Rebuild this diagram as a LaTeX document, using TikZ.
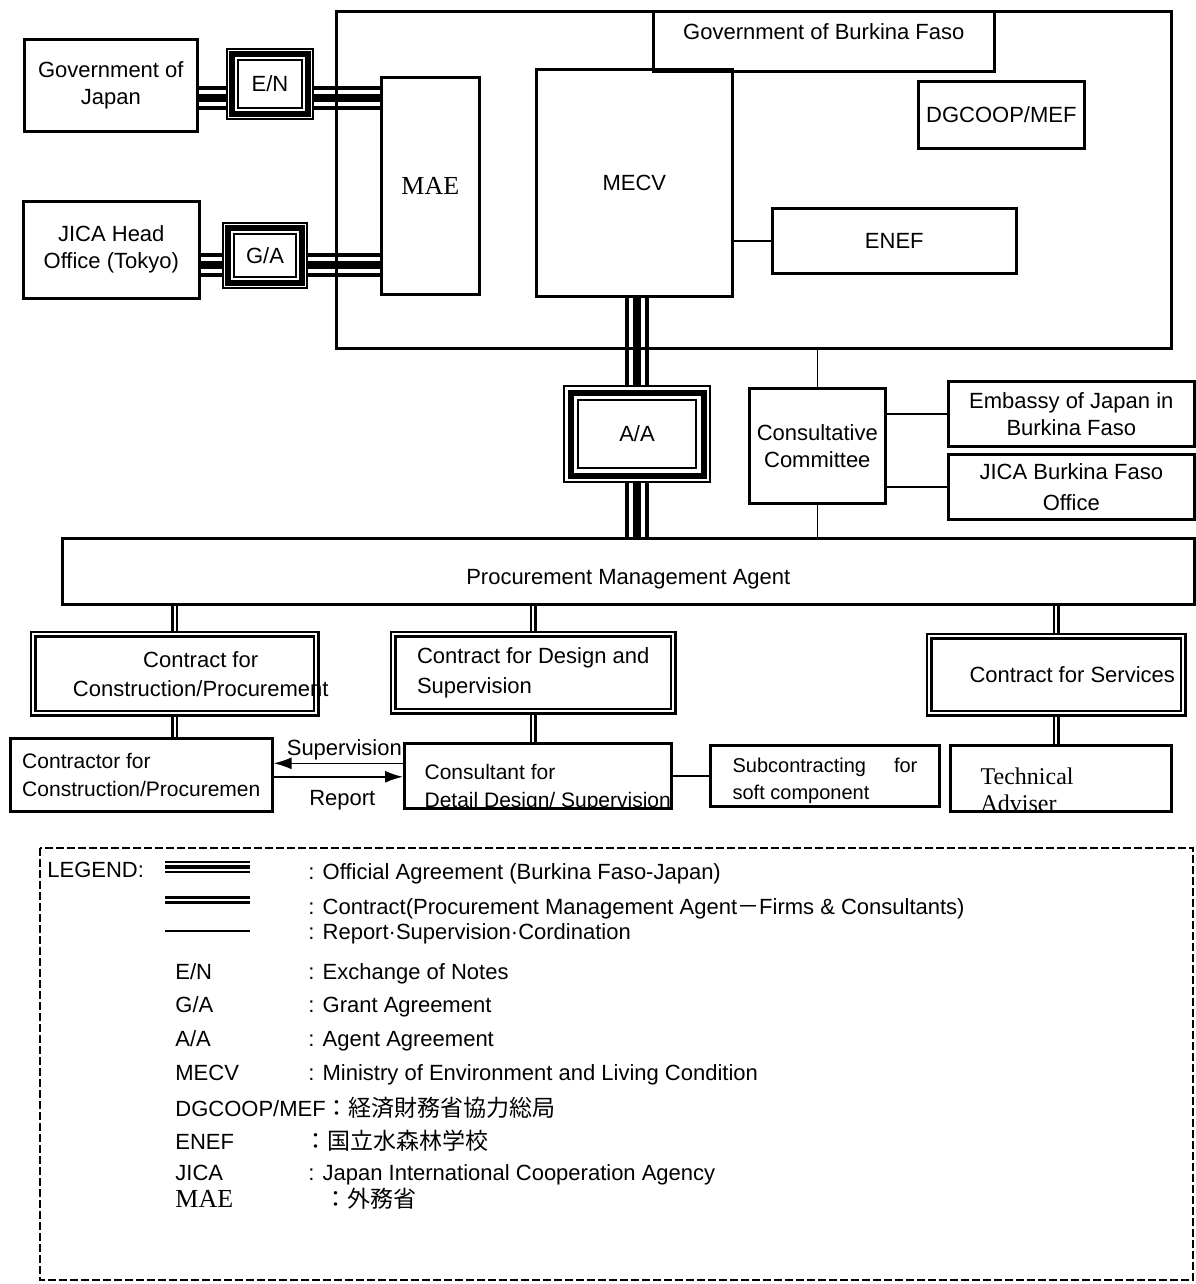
\documentclass[tikz,border=0pt]{standalone}
\usepackage{fontspec}
\setmainfont{Liberation Sans}
\newfontfamily\mincho{Liberation Serif}
\newfontfamily\jp{Noto Sans CJK JP}
\usetikzlibrary{arrows.meta,backgrounds}

\tikzset{
    sz/.style 2 args={minimum width=#1*0.5pt, minimum height=#2*0.5pt},
    box/.style={draw, line width=1.3pt, inner sep=0pt, align=center},
    cbox/.style={draw, double, double distance=1pt, line width=1.2pt, inner sep=0pt, align=center},
    agreebox/.style={draw, line width=1pt, inner sep=0pt},
    txt/.style={draw=none, minimum width=0pt, minimum height=0pt, inner sep=0pt, align=center},
    inl/.style={txt, anchor=base west, align=left},
    lgd/.style={anchor=base west, inner sep=0pt},
    link/.style={line width=0.8pt},
    agree/.style={line width=12pt, postaction={draw=white, line width=8pt}, postaction={draw=black, line width=4pt}},
    legagree/.style={line width=6pt, postaction={draw=white, line width=3.6pt}, postaction={draw=black, line width=1.6pt}},
    contract/.style={double, double distance=1pt, line width=1.2pt},
    legcontract/.style={double, double distance=0.8pt, line width=1.5pt},
}

% band and inner line of an agreement box
\newcommand{\agreeframe}[2]{%
    \draw[line width=3pt] ([shift={(#2,#2)}]#1.north west) rectangle ([shift={(-#2,-#2)}]#1.south east);
    \draw[line width=1pt] ([shift={(2*#2,2*#2)}]#1.north west) rectangle ([shift={(-2*#2,-2*#2)}]#1.south east);
}

\begin{document}
\begin{tikzpicture}[x=0.5pt, y=-0.5pt, font=\fontsize{11}{13.5}\selectfont]
    \useasboundingbox (0,0) rectangle (1195,1284);

    % Burkina Faso side
    \node[box, sz={835}{337}, anchor=north west] (bf) at (335,10) {};
    \node[box, sz={341}{60}, anchor=north west,
        label={[txt, yshift=5pt]center:Government of Burkina Faso}] (gbf) at (652,10) {};
    \node[box, sz={196}{227}, anchor=north west] (mecv) at (535,68) {MECV};
    \node[box, sz={98}{217}, anchor=north west, font=\mincho\fontsize{13}{15}\selectfont] (mae) at (380,76) {MAE};
    \node[box, sz={166}{67}, anchor=north west] (dg) at (917,80) {DGCOOP/MEF};
    \node[box, sz={244}{65}, anchor=north west] (enef) at (771,207) {ENEF};

    % Japan side
    \node[box, sz={173}{92}, anchor=north west] (gj) at (23,38) {Government of\\Japan};
    \node[box, sz={176}{97}, anchor=north west] (jh) at (22,200) {JICA Head\\Office (Tokyo)};
    \node[agreebox, sz={86}{70}, anchor=north west] (en) at (226,48) {E/N};
    \agreeframe{en}{6}
    \node[agreebox, sz={84}{65}, anchor=north west] (ga) at (222,222) {G/A};
    \agreeframe{ga}{6}

    % agent and committee
    \node[agreebox, sz={146}{96}, anchor=north west] (aa) at (563,385) {A/A};
    \agreeframe{aa}{7.5}
    \node[box, sz={136}{115}, anchor=north west] (cc) at (748,387) {Consultative\\Committee};
    \node[box, sz={246}{65}, anchor=north west] (emb) at (947,380) {Embassy of Japan in\\Burkina Faso};
    \node[box, sz={246}{65}, anchor=north west] (jbf) at (947,453) {JICA Burkina Faso\\[2pt]Office};
    \node[box, sz={1132}{66}, anchor=north west,
        label={[txt, yshift=-4pt]center:Procurement Management Agent}] (pma) at (61,537) {};

    % contracts
    \node[cbox, sz={283}{79}, anchor=north west,
        label={[txt, xshift=13pt]center:{Contract for\\[1pt]Construction/Procurement}}] (ccp) at (32,633) {};
    \node[cbox, sz={280}{77}, anchor=north west, align=left] (cds) at (392,633) {Contract for Design and\\[1.5pt]Supervision};
    \node[cbox, sz={254}{77}, anchor=north west,
        label={[txt, xshift=8pt]center:Contract for Services}] (csv) at (928,635) {};

    % firms
    \node[box, sz={262}{73}, anchor=north west, align=left, font=\fontsize{10.5}{14}\selectfont] (ctr) at (9,737) {Contractor for\\Construction/Procuremen};
    \node[box, sz={267}{65}, anchor=north west, path picture={
        \node[inl, font=\fontsize{10.5}{14}\selectfont] (cons1) at ([shift={(19,36)}]path picture bounding box.north west) {Consultant for};
        \node[inl, font=\fontsize{10.5}{14}\selectfont] (cons2) at ([shift={(19,64)}]path picture bounding box.north west) {Detail Design/ Supervision};
    }] (cons) at (403,742) {};
    \node[box, sz={229}{61}, anchor=north west, path picture={
        \node[inl, font=\fontsize{10}{12}\selectfont] (sub1) at ([shift={(21,27)}]path picture bounding box.north west) {Subcontracting\hspace{14pt}for};
        \node[inl, font=\fontsize{10}{12}\selectfont] (sub2) at ([shift={(21,54)}]path picture bounding box.north west) {soft component};
    }] (sub) at (709,744) {};
    \node[box, sz={221}{66}, anchor=north west, path picture={
        \node[inl, font=\mincho\fontsize{12}{14}\selectfont] (tech1) at ([shift={(29,39)}]path picture bounding box.north west) {Technical};
        \node[inl, font=\mincho\fontsize{12}{14}\selectfont] (tech2) at ([shift={(29,66)}]path picture bounding box.north west) {Adviser};
    }] (tech) at (949,744) {};

    \begin{pgfonlayer}{background}
        \coordinate (enl) at ([yshift=-6.5pt]gj.east);
        \coordinate (gal) at ([yshift=-7.75pt]jh.east);
        \draw[agree] (enl) -- (enl -| en.west);
        \draw[agree] (en.east |- enl) -- (enl -| mae.west);
        \draw[agree] (gal) -- (gal -| ga.west);
        \draw[agree] (ga.east |- gal) -- (gal -| mae.west);
        \draw[agree] (mecv.south -| aa.north) -- (aa.north);
        \draw[agree] (aa.south) -- (aa.south |- pma.north);

        \draw[link] (mecv.east |- enef.west) -- (enef.west);
        \draw[link] (bf.south -| cc.north) -- (cc.north);
        \draw[link] (cc.south) -- (cc.south |- pma.north);
        \draw[link] (cc.east |- emb.west) -- (emb.west);
        \draw[link] (cc.east |- jbf.west) -- (jbf.west);

        \draw[contract] (pma.south -| ccp.north) -- (ccp.north);
        \draw[contract] (pma.south -| cds.north) -- (cds.north);
        \draw[contract] (pma.south -| csv.north) -- (csv.north);
        \draw[contract] (ccp.south) -- (ccp.south |- ctr.north);
        \draw[contract] (cds.south) -- (cds.south |- cons.north);
        \draw[contract] (csv.south) -- (csv.south |- tech.north);
        \draw[link] (cons.east) -- (sub.west);
    \end{pgfonlayer}

    \coordinate (sv) at ([yshift=6.25pt]cons.west);
    \coordinate (rp) at ([yshift=-1pt]ctr.east);
    \draw[link, -{Latex[length=9pt, width=6pt]}] (sv) -- (sv -| ctr.east)
        node[midway, above, yshift=-2pt, xshift=3pt] (svt) {Supervision};
    \draw[link, -{Latex[length=9pt, width=6pt]}] (rp) -- (rp -| cons.west)
        node[midway, below=3pt, xshift=2pt] (rpt) {Report};

    % legend
    \draw[line width=0.7pt, dash pattern=on 4pt off 1.5pt] (40,848) rectangle (1193,1280);
    \node[lgd] (lgt) at (47,877) {LEGEND:};
    \draw[legagree] (165,867) -- (250,867);
    \draw[legcontract] (165,900) -- (250,900);
    \draw[link] (165,931) -- (250,931);
    \node[lgd] (l1) at (308,879) {: Official Agreement (Burkina Faso-Japan)};
    \node[lgd] (l2) at (308,914) {: Contract(Procurement Management Agent{\jp －}Firms \& Consultants)};
    \node[lgd] (l3) at (308,939) {: Report·Supervision·Cordination};

    \node[lgd] (ken) at (175,979) {E/N};
    \node[lgd] (den) at (308,979) {: Exchange of Notes};
    \node[lgd] (kga) at (175,1012) {G/A};
    \node[lgd] (dga) at (308,1012) {: Grant Agreement};
    \node[lgd] (kaa) at (175,1046) {A/A};
    \node[lgd] (daa) at (308,1046) {: Agent Agreement};
    \node[lgd] (kme) at (175,1080) {MECV};
    \node[lgd] (dme) at (308,1080) {: Ministry of Environment and Living Condition};
    \node[lgd] (kdg) at (175,1116) {DGCOOP/MEF{\jp\fontsize{11.5}{14}\selectfont ：経済財務省協力総局}};
    \node[lgd] (kef) at (175,1149) {ENEF};
    \node[lgd, font=\jp\fontsize{11.5}{14}\selectfont] (def) at (304,1149) {：国立水森林学校};
    \node[lgd] (kji) at (175,1180) {JICA};
    \node[lgd] (dji) at (308,1180) {: Japan International Cooperation Agency};
    \node[lgd, font=\mincho\fontsize{13}{15}\selectfont] (kma) at (175,1207) {MAE};
    \node[lgd, font=\jp\fontsize{11.5}{14}\selectfont] (dma) at (324,1207) {：外務省};
\end{tikzpicture}
\end{document}
